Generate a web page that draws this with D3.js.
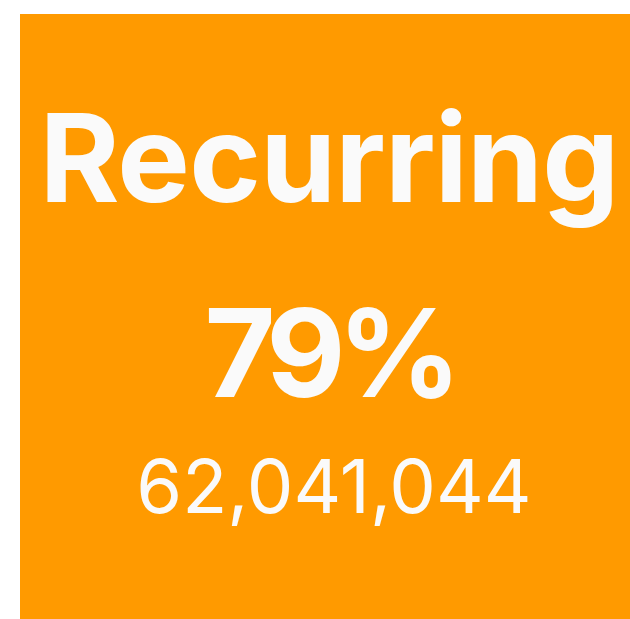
<!DOCTYPE html>
<html>
<head>
<meta charset="utf-8">
<script src="https://cdn.jsdelivr.net/npm/d3@7"></script>
<style>
  html, body { margin: 0; padding: 0; background: #fff; }
  svg { display: block; }
</style>
</head>
<body>
<svg id="chart"></svg>
<script>
// chart data
const categories = ["Recurring"];
const shares = [0.79];
const counts = [62041044];

const width = 630;
const height = 619;
const marginTop = 14;
const marginLeft = 20;

const svg = d3.select("#chart")
  .attr("width", width)
  .attr("height", height);

// one tile per category
const x = d3.scaleBand()
  .domain(categories)
  .range([marginLeft, width])
  .padding(0);

const y = d3.scaleLinear()
  .domain([0, 1])
  .range([marginTop, height]);

const fmtPct = d3.format(".0%");
const fmtNum = d3.format(",");

const cells = svg.selectAll("g.cell")
  .data(categories.map((c, i) => ({ name: c, share: shares[i], count: counts[i] })))
  .join("g")
  .attr("class", "cell");

cells.append("rect")
  .attr("x", d => x(d.name))
  .attr("y", y(0))
  .attr("width", x.bandwidth())
  .attr("height", y(1) - y(0))
  .attr("fill", "#ff9a00");

const cx = d => x(d.name) + x.bandwidth() / 2;

cells.append("text")
  .attr("x", d => cx(d) + 4)
  .attr("y", 202)
  .attr("text-anchor", "middle")
  .attr("fill", "#fafafa")
  .style("font-family", "Inter, 'Noto Sans', sans-serif")
  .style("font-weight", "bold")
  .style("font-size", "122px")
  .style("letter-spacing", "-0.8px")
  .text(d => d.name);

cells.append("text")
  .attr("x", d => cx(d) + 4)
  .attr("y", 397)
  .attr("text-anchor", "middle")
  .attr("fill", "#fafafa")
  .style("font-family", "Inter, 'Noto Sans', sans-serif")
  .style("font-weight", "bold")
  .style("font-size", "122px")
  .style("letter-spacing", "-8px")
  .text(d => fmtPct(d.share));

cells.append("text")
  .attr("x", d => cx(d) + 9)
  .attr("y", 513)
  .attr("text-anchor", "middle")
  .attr("fill", "#fafafa")
  .style("font-family", "Inter, 'Noto Sans', sans-serif")
  .style("font-size", "74px")
  .text(d => fmtNum(d.count));
</script>
</body>
</html>
